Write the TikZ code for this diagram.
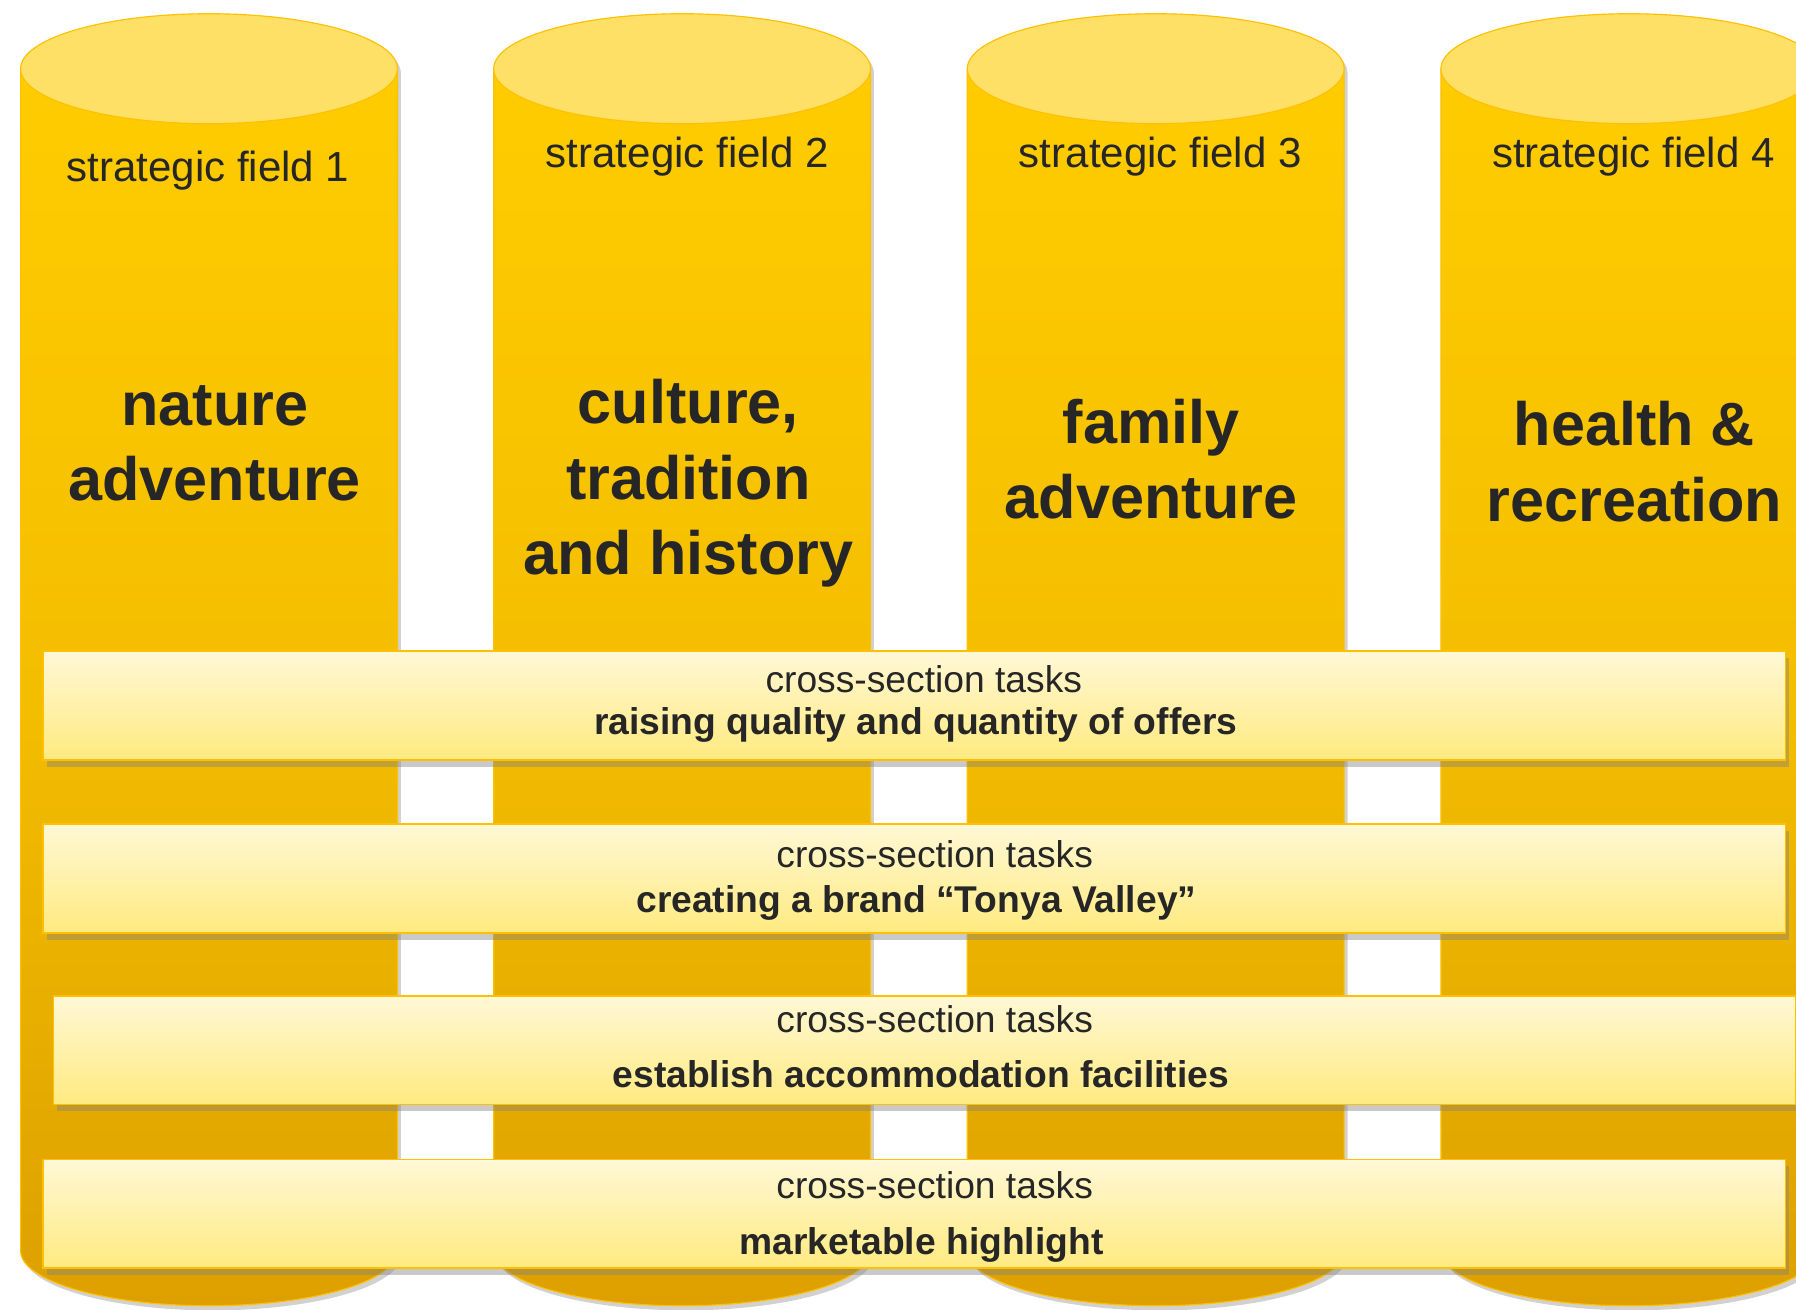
\documentclass[tikz,border=0pt]{standalone}
\usepackage{fontspec}
\setmainfont{Liberation Sans}
\usetikzlibrary{shadows}
\definecolor{cyltop}{HTML}{FFE066}
\definecolor{cylline}{HTML}{FFC000}
\definecolor{cylA}{HTML}{FFCC00}
\definecolor{cylB}{HTML}{F4BE00}
\definecolor{cylC}{HTML}{DDA000}
\definecolor{boxA}{HTML}{FFF8D6}
\definecolor{boxB}{HTML}{FFEA80}
\definecolor{txt}{HTML}{262626}
\begin{document}
\begin{tikzpicture}[x=1pt,y=1pt,
  fieldlabel/.style={text=txt, font=\fontsize{36.7}{44}\selectfont, inner sep=0pt},
  fieldtitle/.style={text=txt, font=\fontsize{53.4}{66}\selectfont\bfseries, align=center, inner sep=0pt},
  taskbox/.style={draw=cylline, line width=1.5pt, top color=boxA, bottom color=boxB, inner sep=0pt,
    anchor=south west, minimum width=1521pt, minimum height=95pt,
    drop shadow={shadow xshift=3pt, shadow yshift=-6pt, opacity=0.42}},
  tasklabel/.style={text=txt, font=\fontsize{32.5}{39}\selectfont, inner sep=0pt},
  taskbold/.style={text=txt, font=\fontsize{32.5}{39}\selectfont\bfseries, inner sep=0pt},
  cylbody/.style={draw=cylline, line width=1pt, top color=cylA, bottom color=cylC, middle color=cylB},
  cylcap/.style={draw=cylline, line width=1pt, fill=cyltop},
  cylshadow/.style={fill=black, opacity=0.18}
]
\clip (0,0) rectangle (1568,1143);
\fill[white] (0,0) rectangle (1568,1143);

% cylinders
\foreach \cx in {182.5,595.5,1009,1422.5}{
  \path[cylshadow] (\cx-161.5,1079) -- (\cx-161.5,47)
    arc[start angle=180,end angle=360,x radius=164.5,y radius=48]
    -- (\cx+167.5,1079) arc[start angle=0,end angle=180,x radius=164.5,y radius=48] -- cycle;
  \path[cylbody] (\cx-164.5,1083) -- (\cx-164.5,51)
    arc[start angle=180,end angle=360,x radius=164.5,y radius=48]
    -- (\cx+164.5,1083) -- cycle;
  \path[cylcap] (\cx,1083) ellipse[x radius=164.5, y radius=48];
}

% field labels
\node[fieldlabel] (sf1) at (181.5,994) {strategic field 1};
\node[fieldlabel] (sf2) at (600,1006) {strategic field 2};
\node[fieldlabel] (sf3) at (1013,1006) {strategic field 3};
\node[fieldlabel] (sf4) at (1426,1006) {strategic field 4};

\node[fieldtitle] (t1) at (187.5,756) {nature\\adventure};
\node[fieldtitle] (t2) at (601,721) {culture,\\tradition\\and history};
\node[fieldtitle] (t3) at (1005,742) {family\\adventure};
\node[fieldtitle] (t4) at (1427,740) {health \&\\recreation};

% cross-section boxes
\node[taskbox] (b1) at (37,479) {};
\node[taskbox] (b2) at (37,328) {};
\node[taskbox] (b3) at (46,178) {};
\node[taskbox] (b4) at (37,35) {};

\node[tasklabel] (c1) at (806.5,550) {cross-section tasks};
\node[taskbold]  (k1) at (799.5,510) {raising quality and quantity of offers};
\node[tasklabel] (c2) at (816,397) {cross-section tasks};
\node[taskbold]  (k2) at (800,355) {creating a brand “Tonya Valley”};
\node[tasklabel] (c3) at (816,253) {cross-section tasks};
\node[taskbold]  (k3) at (804,205) {establish accommodation facilities};
\node[tasklabel] (c4) at (816,108) {cross-section tasks};
\node[taskbold]  (k4) at (804.5,56) {marketable highlight};
\end{tikzpicture}
\end{document}
